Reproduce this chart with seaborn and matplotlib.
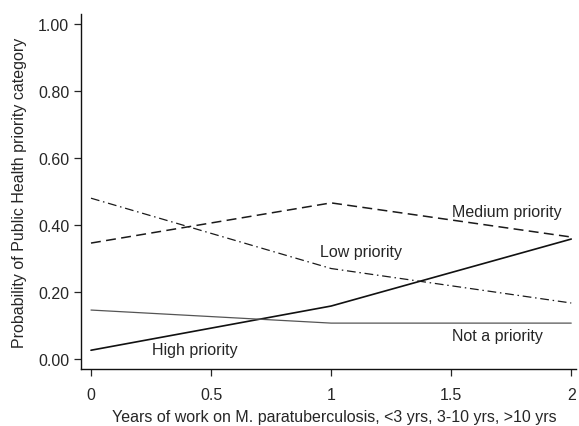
import matplotlib
matplotlib.use("Agg")
import matplotlib.pyplot as plt
import seaborn as sns
import pandas as pd

# Predicted probabilities by years of work (0: <3 yrs, 1: 3-10 yrs, 2: >10 yrs)
years = [0, 1, 2]
medium_priority = [0.346, 0.466, 0.364]
low_priority = [0.480, 0.270, 0.167]
high_priority = [0.026, 0.158, 0.358]
not_a_priority = [0.146, 0.107, 0.107]

x_ticks = [0, 0.5, 1, 1.5, 2]
x_tick_labels = ["0", "0.5", "1", "1.5", "2"]
y_ticks = [0.0, 0.2, 0.4, 0.6, 0.8, 1.0]
y_tick_labels = ["0.00", "0.20", "0.40", "0.60", "0.80", "1.00"]

sns.set_theme(style="ticks")
plt.rcParams["font.family"] = ["Liberation Sans", "DejaVu Sans"]

FS = 11.5
INK = "#262626"

fig = plt.figure(figsize=(5.79, 4.27), dpi=100)
ax = fig.add_axes([0.1399, 0.1335, 0.855, 0.8314])

series = [
    ("Medium priority", medium_priority, "#1a1a1a", 1.1, (0, (6.5, 3.5))),
    ("Low priority", low_priority, "#1a1a1a", 0.9, (0, (7, 3, 1.2, 3))),
    ("High priority", high_priority, "#111111", 1.2, "-"),
    ("Not a priority", not_a_priority, "#555555", 0.9, "-"),
]
for name, vals, color, lw, ls in series:
    df = pd.DataFrame({"year": years, "prob": vals})
    sns.lineplot(data=df, x="year", y="prob", ax=ax, color=color,
                 linewidth=lw, linestyle=ls, legend=False)

text_kw = dict(fontsize=FS, color=INK, va="center", ha="left")
ax.text(1.505, 0.439, "Medium priority", **text_kw)
ax.text(0.952, 0.320, "Low priority", **text_kw)
ax.text(0.254, 0.027, "High priority", **text_kw)
ax.text(1.505, 0.069, "Not a priority", **text_kw)

ax.set_xlim(-0.0416, 2.02)
ax.set_ylim(-0.03, 1.03)
ax.set_xticks(x_ticks)
ax.set_xticklabels(x_tick_labels)
ax.set_yticks(y_ticks)
ax.set_yticklabels(y_tick_labels)
ax.tick_params(axis="both", labelsize=FS, length=5, width=0.9, colors=INK)
ax.tick_params(axis="x", pad=8)
ax.tick_params(axis="y", pad=3.5)
ax.set_xlabel("Years of work on M. paratuberculosis, <3 yrs, 3-10 yrs, >10 yrs",
              fontsize=FS, color=INK, va="center")
ax.set_ylabel("Probability of Public Health priority category",
              fontsize=FS, color=INK, va="center")
ax.xaxis.set_label_coords(0.5 + (334 - 328.5) / 495, -0.135)
ax.yaxis.set_label_coords(-0.125, 0.5)
for side in ["top", "right"]:
    ax.spines[side].set_visible(False)
for side in ["left", "bottom"]:
    ax.spines[side].set_linewidth(1.0)
    ax.spines[side].set_color("#111111")

fig.savefig("out.png", dpi=100)
